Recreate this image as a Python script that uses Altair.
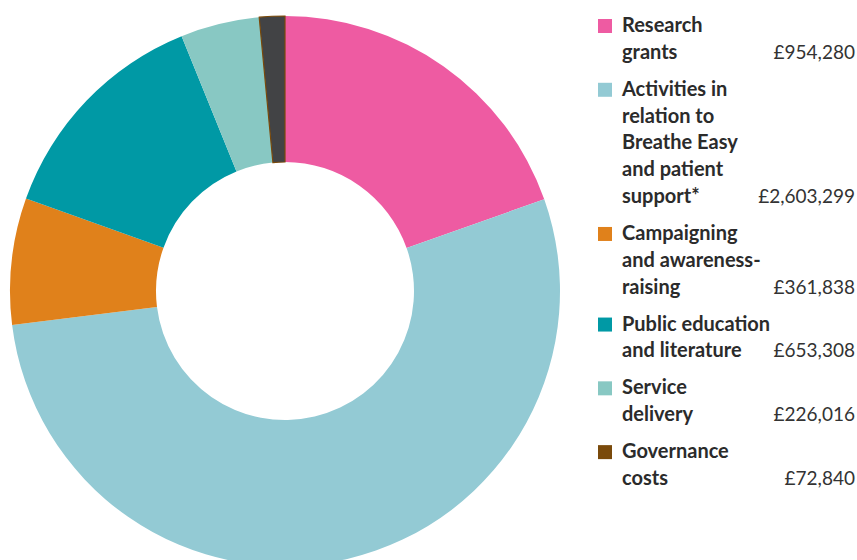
import altair as alt
import pandas as pd

categories = ["Research grants",
              "Activities in relation to Breathe Easy and patient support*",
              "Campaigning and awareness-raising",
              "Public education and literature",
              "Service delivery",
              "Governance costs"]
values = [954280, 2603299, 361838, 653308, 226016, 72840]
value_labels = ["£954,280", "£2,603,299", "£361,838", "£653,308", "£226,016", "£72,840"]
legend_lines = [["Research", "grants"],
                ["Activities in", "relation to", "Breathe Easy", "and patient", "support*"],
                ["Campaigning", "and awareness-", "raising"],
                ["Public education", "and literature"],
                ["Service", "delivery"],
                ["Governance", "costs"]]
slice_colors = ["#ee5ba2", "#93cad4", "#e0811b", "#0099a5", "#88c8c3", "#424345"]
swatch_colors = ["#ee5ba2", "#93cad4", "#e0811b", "#0099a5", "#88c8c3", "#7a4a0b"]

pie_df = pd.DataFrame({"category": categories, "value": values,
                       "order": list(range(len(categories)))})

# legend table: one row per text line, position in "line units"
rows = []
pos = 0.0
ENTRY_GAP = 0.38
for i, lines in enumerate(legend_lines):
    for j, line in enumerate(lines):
        rows.append({"entry": i, "text": line, "pos": pos,
                     "first": j == 0, "last": j == len(lines) - 1,
                     "value_label": value_labels[i], "category": categories[i]})
        pos += 1
    pos += ENTRY_GAP
leg_df = pd.DataFrame(rows)

color_scale = alt.Scale(domain=categories, range=slice_colors)
swatch_scale = alt.Scale(domain=categories, range=swatch_colors)
yscale = alt.Scale(domain=[0, 20], range=[26, 562])

donut = alt.Chart(pie_df).mark_arc(radius=275, radius2=129, stroke=None).encode(
    theta=alt.Theta("value:Q", stack=True),
    order=alt.Order("order:Q"),
    color=alt.Color("category:N", scale=color_scale, legend=None),
    x=alt.value(285),
    y=alt.value(291),
)

gov_outline = alt.Chart(pie_df).transform_window(
    cum="sum(value)", frame=[None, 0], sort=[alt.SortField("order")]
).transform_joinaggregate(total="sum(value)").transform_calculate(
    t1="2*PI*(datum.cum - datum.value)/datum.total",
    t2="2*PI*datum.cum/datum.total",
).transform_filter("datum.order == 5").mark_arc(
    radius=275, radius2=129, fillOpacity=0, stroke="#7a4a0b", strokeWidth=1.2
).encode(
    theta=alt.Theta("t1:Q", scale=None),
    theta2="t2:Q",
    x=alt.value(285),
    y=alt.value(291),
)

swatches = alt.Chart(leg_df).transform_filter("datum.first").mark_square(
    size=196, opacity=1
).encode(
    x=alt.value(605),
    y=alt.Y("pos:Q", scale=yscale, axis=None),
    color=alt.Color("category:N", scale=swatch_scale, legend=None),
)

labels = alt.Chart(leg_df).mark_text(
    align="left", baseline="middle", font="Lato", fontWeight="bold",
    fontSize=20, color="#2b2b2b"
).encode(
    x=alt.value(622),
    y=alt.Y("pos:Q", scale=yscale, axis=None),
    text="text:N",
)

vals = alt.Chart(leg_df).transform_filter("datum.last").mark_text(
    align="right", baseline="middle", font="Lato", fontSize=19, color="#333333"
).encode(
    x=alt.value(855),
    y=alt.Y("pos:Q", scale=yscale, axis=None),
    text="value_label:N",
)

chart = alt.layer(donut, gov_outline, swatches, labels, vals).resolve_scale(
    color="independent"
).properties(
    width=857, height=560, padding=0, autosize=alt.AutoSizeParams(type="none")
).configure_view(stroke=None)

chart.save("out.html", embed_options={"renderer": "svg", "actions": False})
